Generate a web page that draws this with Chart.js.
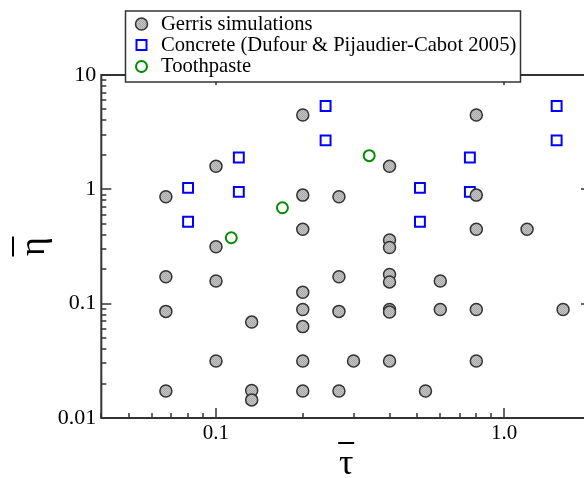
<!DOCTYPE html>
<html>
<head>
<meta charset="utf-8">
<script src="https://cdn.jsdelivr.net/npm/chart.js@4"></script>
<style>
  html, body { margin: 0; padding: 0; background: #fff; overflow: hidden; }
  #wrap { width: 600px; height: 478px; position: relative; }
</style>
</head>
<body>
<div id="wrap"><canvas id="chart"></canvas></div>
<script>
// values (x = tau bar, y = eta bar)
const gerrisTau = [0.2, 0.8, 0.1, 0.4, 0.067, 0.2, 0.267, 0.8, 0.2, 0.8, 1.2, 0.4, 0.4, 0.1,
  0.067, 0.1, 0.267, 0.2, 0.4, 0.4, 0.6, 0.067, 0.2, 0.267, 0.4, 0.4, 0.6, 0.8, 1.6, 0.133, 0.2,
  0.1, 0.2, 0.3, 0.4, 0.8, 0.067, 0.133, 0.133, 0.2, 0.267, 0.533];
const gerrisEta = [4.47, 4.47, 1.59, 1.59, 0.86, 0.89, 0.86, 0.89, 0.447, 0.447, 0.447, 0.36, 0.31, 0.315,
  0.172, 0.158, 0.172, 0.126, 0.18, 0.155, 0.158, 0.0856, 0.089, 0.0856, 0.089, 0.0845, 0.089, 0.089, 0.089, 0.069, 0.063,
  0.0315, 0.0315, 0.0315, 0.0315, 0.0315, 0.0172, 0.0174, 0.0144, 0.0172, 0.0172, 0.0172];

const concreteTau = [0.08, 0.08, 0.12, 0.12, 0.24, 0.24, 0.51, 0.51, 0.76, 0.76, 1.52, 1.52];
const concreteEta = [1.03, 0.52, 1.9, 0.95, 5.35, 2.68, 1.03, 0.52, 1.9, 0.95, 5.35, 2.68];

const toothTau = [0.113, 0.17, 0.34];
const toothEta = [0.377, 0.69, 1.97];

const seriesLabels = ["Gerris simulations", "Concrete (Dufour & Pijaudier-Cabot 2005)", "Toothpaste"];

const xTickValues = [0.1, 1];
const xTickLabels = ["0.1", "1.0"];
const yTickValues = [0.01, 0.1, 1, 10];
const yTickLabels = ["0.01", "0.1", "1", "10"];

const xTitle = "\u03C4"; // tau, overbar drawn by hand
const yTitle = "\u03B7"; // eta, overbar drawn by hand

const serif = "'Liberation Serif', 'DejaVu Serif', serif";
const axisColor = "#333";

function toPoints(xs, ys) {
  return xs.map((x, i) => ({ x: x, y: ys[i] }));
}

// dithered grey fill like the original symbols
function greyPattern() {
  const c = document.createElement("canvas");
  c.width = 2; c.height = 2;
  const g = c.getContext("2d");
  g.fillStyle = "#c4c4c4"; g.fillRect(0, 0, 2, 2);
  g.fillStyle = "#a8a8a8"; g.fillRect(0, 0, 1, 1); g.fillRect(1, 1, 1, 1);
  return g.createPattern(c, "repeat");
}
const grey = greyPattern();

// frame with inward ticks on all four sides
const framePlugin = {
  id: "frame",
  beforeDatasetsDraw(chart) {
    const { ctx, chartArea: a, scales: { x, y } } = chart;
    ctx.save();
    ctx.strokeStyle = axisColor;
    ctx.lineWidth = 2;
    ctx.strokeRect(a.left, a.top, a.right - a.left, a.bottom - a.top);
    ctx.lineWidth = 1.5;
    ctx.beginPath();
    for (const d of [0.01, 0.1, 1]) {
      for (let k = 1; k < 10; k++) {
        const v = k * d;
        if (v >= x.min && v <= x.max) {
          const px = Math.round(x.getPixelForValue(v));
          const len = k === 1 ? 10 : 5;
          ctx.moveTo(px, a.bottom); ctx.lineTo(px, a.bottom - len);
          if (k === 1) { ctx.moveTo(px, a.top); ctx.lineTo(px, a.top + len); }
        }
      }
    }
    for (const d of [0.01, 0.1, 1, 10]) {
      for (let k = 1; k < 10; k++) {
        const v = k * d;
        if (v >= y.min && v <= y.max * 1.0001) {
          const py = Math.round(y.getPixelForValue(v));
          const len = k === 1 ? 10 : 5;
          ctx.moveTo(a.left, py); ctx.lineTo(a.left + len, py);
          ctx.moveTo(a.right, py); ctx.lineTo(a.right - len, py);
        }
      }
    }
    ctx.stroke();

    // axis titles with overbars
    const cx = (a.left + a.right) / 2;
    const cy = (a.top + a.bottom) / 2;
    ctx.fillStyle = "#000";
    ctx.font = "36px " + serif;
    ctx.textAlign = "center";
    ctx.textBaseline = "alphabetic";
    ctx.fillText(xTitle, cx, 474);
    ctx.save();
    ctx.translate(44, cy);
    ctx.rotate(-Math.PI / 2);
    ctx.fillText(yTitle, 0, 0);
    ctx.restore();
    ctx.strokeStyle = "#000";
    ctx.lineWidth = 2;
    ctx.beginPath();
    ctx.moveTo(cx - 8, 443); ctx.lineTo(cx + 8, 443);
    ctx.moveTo(13, cy - 10); ctx.lineTo(13, cy + 10);
    ctx.stroke();
    ctx.restore();
  }
};

// boxed legend sitting over the top axis
const legendPlugin = {
  id: "boxLegend",
  afterDraw(chart) {
    const ctx = chart.ctx;
    const box = { x: 125.5, y: 11, w: 395, h: 71 };
    const baselines = [29.5, 50.5, 72];
    ctx.save();
    ctx.fillStyle = "#fff";
    ctx.fillRect(box.x, box.y, box.w, box.h);
    ctx.strokeStyle = axisColor;
    ctx.lineWidth = 1.5;
    ctx.strokeRect(box.x, box.y, box.w, box.h);
    chart.data.datasets.forEach((ds, i) => {
      const sx = 141.5, sy = baselines[i] - 5.5;
      ctx.beginPath();
      if (ds.pointStyle === "rect") {
        ctx.rect(sx - 5, sy - 5, 10, 10);
      } else {
        ctx.arc(sx, sy, ds.pointRadius, 0, Math.PI * 2);
      }
      if (ds.backgroundColor !== "transparent") {
        ctx.fillStyle = ds.backgroundColor;
        ctx.fill();
      }
      ctx.lineWidth = ds.borderWidth;
      ctx.strokeStyle = ds.borderColor;
      ctx.stroke();
      ctx.fillStyle = "#000";
      ctx.font = "20.6px " + serif;
      ctx.textBaseline = "alphabetic";
      ctx.textAlign = "left";
      ctx.fillText(ds.label, 161, baselines[i]);
    });
    ctx.restore();
  }
};

new Chart(document.getElementById("chart"), {
  type: "scatter",
  data: {
    datasets: [
      {
        label: seriesLabels[0],
        data: toPoints(gerrisTau, gerrisEta),
        pointStyle: "circle",
        pointRadius: 6,
        backgroundColor: grey,
        borderColor: "#333",
        borderWidth: 1.5,
        order: 1
      },
      {
        label: seriesLabels[1],
        data: toPoints(concreteTau, concreteEta),
        pointStyle: "rect",
        pointRadius: 7,
        backgroundColor: "transparent",
        borderColor: "#0000ff",
        borderWidth: 2,
        order: 2
      },
      {
        label: seriesLabels[2],
        data: toPoints(toothTau, toothEta),
        pointStyle: "circle",
        pointRadius: 5.5,
        backgroundColor: "transparent",
        borderColor: "#008c00",
        borderWidth: 2,
        order: 3
      }
    ]
  },
  options: {
    responsive: true,
    maintainAspectRatio: false,
    animation: false,
    events: [],
    layout: { padding: { top: 75, right: 8.6, left: 0, bottom: 0 } },
    plugins: {
      legend: { display: false },
      tooltip: { enabled: false }
    },
    scales: {
      x: {
        type: "logarithmic",
        min: 0.04,
        max: 2,
        grid: { display: false, drawTicks: false },
        border: { display: false },
        afterBuildTicks: (s) => { s.ticks = xTickValues.map((v) => ({ value: v, major: true })); },
        afterFit: (s) => { s.height = 60; },
        ticks: {
          autoSkip: false,
          maxRotation: 0,
          padding: 3,
          color: "#000",
          font: { family: serif, size: 21 },
          callback: (v, i) => xTickLabels[i]
        }
      },
      y: {
        type: "logarithmic",
        min: 0.01,
        max: 10,
        grid: { display: false, drawTicks: false },
        border: { display: false },
        afterBuildTicks: (s) => { s.ticks = yTickValues.map((v) => ({ value: v, major: true })); },
        afterFit: (s) => { s.width = 101.3; },
        ticks: {
          autoSkip: false,
          padding: 5,
          color: "#000",
          font: { family: serif, size: 22 },
          callback: (v, i) => yTickLabels[i]
        }
      }
    }
  },
  plugins: [framePlugin, legendPlugin]
});
</script>
</body>
</html>
